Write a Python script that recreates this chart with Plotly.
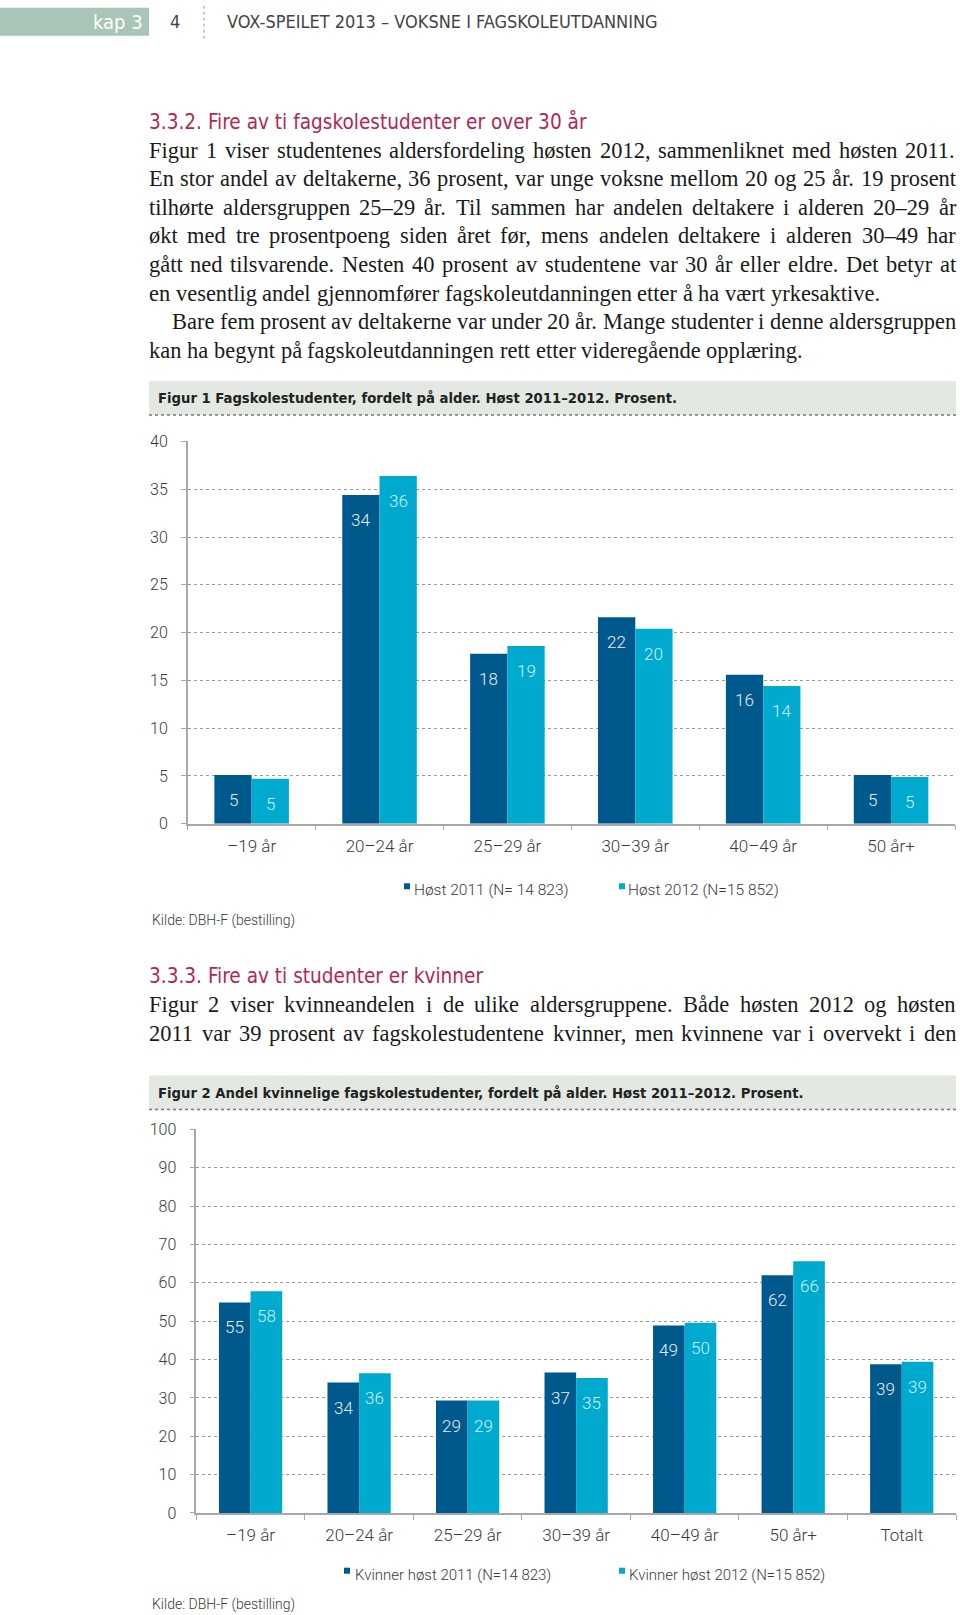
import plotly.graph_objects as go

W, H = 960, 1615

# ---------------- text content ----------------
header_chapter = "kap 3"
header_page = "4"
header_title = "VOX-SPEILET 2013 – VOKSNE I FAGSKOLEUTDANNING"

heading_1 = "3.3.2. Fire av ti fagskolestudenter er over 30 år"
paragraph_1a = [
    "Figur 1 viser studentenes aldersfordeling høsten 2012, sammenliknet med høsten 2011.",
    "En stor andel av deltakerne, 36 prosent, var unge voksne mellom 20 og 25 år. 19 prosent",
    "tilhørte aldersgruppen 25–29 år. Til sammen har andelen deltakere i alderen 20–29 år",
    "økt med tre prosentpoeng siden året før, mens andelen deltakere i alderen 30–49 har",
    "gått ned tilsvarende. Nesten 40 prosent av studentene var 30 år eller eldre. Det betyr at",
    "en vesentlig andel gjennomfører fagskoleutdanningen etter å ha vært yrkesaktive.",
]
paragraph_1b = [
    "Bare fem prosent av deltakerne var under 20 år. Mange studenter i denne aldersgruppen",
    "kan ha begynt på fagskoleutdanningen rett etter videregående opplæring.",
]
heading_2 = "3.3.3. Fire av ti studenter er kvinner"
paragraph_2 = [
    "Figur 2 viser kvinneandelen i de ulike aldersgruppene. Både høsten 2012 og høsten",
    "2011 var 39 prosent av fagskolestudentene kvinner, men kvinnene var i overvekt i den",
]

# ---------------- figure 1 data ----------------
fig1_caption = "Figur 1 Fagskolestudenter, fordelt på alder. Høst 2011–2012. Prosent."
fig1_categories = ["–19 år", "20–24 år", "25–29 år", "30–39 år", "40–49 år", "50 år+"]
fig1_host_2011 = [5.1, 34.4, 17.8, 21.6, 15.6, 5.1]
fig1_host_2012 = [4.7, 36.4, 18.6, 20.4, 14.4, 4.9]
fig1_series = ["Høst 2011 (N= 14 823)", "Høst 2012 (N=15 852)"]
fig1_yticks = [0, 5, 10, 15, 20, 25, 30, 35, 40]

# ---------------- figure 2 data ----------------
fig2_caption = "Figur 2 Andel kvinnelige fagskolestudenter, fordelt på alder. Høst 2011–2012. Prosent."
fig2_categories = ["–19 år", "20–24 år", "25–29 år", "30–39 år", "40–49 år", "50 år+", "Totalt"]
fig2_kvinner_2011 = [54.9, 34.0, 29.3, 36.6, 48.9, 62.0, 38.8]
fig2_kvinner_2012 = [57.8, 36.4, 29.3, 35.2, 49.6, 65.6, 39.4]
fig2_series = ["Kvinner høst 2011 (N=14 823)", "Kvinner høst 2012 (N=15 852)"]
fig2_yticks = [0, 10, 20, 30, 40, 50, 60, 70, 80, 90, 100]

source_text = "Kilde: DBH-F (bestilling)"

# ---------------- styles ----------------
DARK = "#00598c"
LIGHT = "#00aacf"
LBL_DARK = "#e4edf3"
LBL_LIGHT = "#cdeef7"
GRID = "#9a9a9a"
AXIS = "#a8a8a8"
TXT = "#3a3a3a"
CRIMSON = "#b3284f"
BAND = "#e3e8e3"
SANS = "Roboto, Open Sans, sans-serif"
COND = "Liberation Sans Narrow, DejaVu Sans Condensed, Roboto, sans-serif"
SERIF = "Liberation Serif, Times New Roman, serif"
LIGHTW = 300
BARGAP = 0.417

# vertical calibration of page coordinates (target pixel rows -> figure rows)
Y_SCALE = 0.9876
Y_OFF = 9.3


def px(x):
    return x / W


def py(y):
    return 1 - ((y - Y_OFF) / Y_SCALE) / H


annotations = []
shapes = []


def add_text(x, y, s, size, color, family, xanchor="left", weight="normal"):
    annotations.append(dict(
        x=px(x), y=py(y), xref="paper", yref="paper", text=s, showarrow=False,
        xanchor=xanchor, yanchor="middle", borderpad=0, borderwidth=0,
        font=dict(size=size, color=color, family=family, weight=weight)))


def add_rect(x0, y0, x1, y1, fill):
    shapes.append(dict(type="rect", xref="paper", yref="paper",
                       x0=px(x0), x1=px(x1), y0=py(y0), y1=py(y1),
                       fillcolor=fill, line=dict(width=0), layer="below"))


def add_line(x0, y0, x1, y1, color, width, dash):
    shapes.append(dict(type="line", xref="paper", yref="paper",
                       x0=px(x0), x1=px(x1), y0=py(y0), y1=py(y1),
                       line=dict(color=color, width=width, dash=dash)))


# ---------------- header ----------------
add_rect(0, 8, 149, 36, "#a9c5b7")
add_text(143, 22, header_chapter, 20, "white", COND, xanchor="right")
add_text(175, 22, header_page, 18, "#444444", COND, xanchor="center", weight=LIGHTW)
add_line(204, 6, 204, 40, "#9a9a9a", 1, "dot")
add_text(227, 22, header_title, 18, "#444444", COND, weight=LIGHTW)

# ---------------- justified body text (Times metrics) ----------------
TIMES = {" ": 250, "a": 444, "b": 500, "c": 444, "d": 500, "e": 444, "f": 333, "g": 500,
         "h": 500, "i": 278, "j": 278, "k": 500, "l": 278, "m": 778, "n": 500, "o": 500,
         "p": 500, "q": 500, "r": 333, "s": 389, "t": 278, "u": 500, "v": 500, "w": 722,
         "x": 500, "y": 500, "z": 444, "å": 444, "ø": 500, "æ": 667,
         "A": 722, "B": 667, "C": 667, "D": 722, "E": 611, "F": 556, "G": 722, "H": 722,
         "I": 333, "J": 389, "K": 722, "L": 611, "M": 889, "N": 722, "O": 722, "P": 556,
         "R": 667, "S": 556, "T": 611, "U": 722, "V": 722, "W": 944,
         ",": 250, ".": 250, "–": 500, "-": 333}


def tw(s):
    return sum(TIMES.get(c, 500) for c in s) / 1000.0


X0, X1 = 149.0, 956.0
INDENT = 23.0
all_lines = paragraph_1a + paragraph_1b + paragraph_2
BODY = min(23.0, 0.985 * (X1 - X0) / max(tw(l) for l in all_lines))


def body_lines(lines, y_first, dy, indent_first=False, last_ragged=True):
    for i, line in enumerate(lines):
        y = y_first + i * dy
        x = X0 + (INDENT if (indent_first and i == 0) else 0.0)
        words = line.split(" ")
        ragged = last_ragged and i == len(lines) - 1
        wsum = sum(tw(w) for w in words) * BODY
        if ragged or len(words) < 2:
            gap = tw(" ") * BODY
        else:
            gap = (X1 - x - wsum) / (len(words) - 1)
        for w in words:
            add_text(x, y, w, BODY, "#1a1a1a", SERIF)
            x += tw(w) * BODY + gap


add_text(149, 121.5, heading_1, 20.6, CRIMSON, COND, weight=LIGHTW)
body_lines(paragraph_1a, 150.4, 28.55)
body_lines(paragraph_1b, 150.4 + 6 * 28.55, 28.55, indent_first=True)

add_text(149, 975.4, heading_2, 20.6, CRIMSON, COND, weight=LIGHTW)
body_lines(paragraph_2, 1004.3, 28.8, last_ragged=False)

# ---------------- captions ----------------
add_rect(149, 381, 956, 415, BAND)
add_line(149, 415, 956, 415, "#777777", 1.5, "dot")
add_text(158, 398, "<b>" + fig1_caption + "</b>", 14.7, "#222222", COND)

add_rect(149, 1075, 956, 1109, BAND)
add_line(149, 1109, 956, 1109, "#777777", 1.5, "dot")
add_text(158, 1092, "<b>" + fig2_caption + "</b>", 14.7, "#222222", COND)

# ---------------- chart geometry ----------------
C1_X = (187.7, 955.0)
C1_Y = (823.5, 441.5)
C2_X = (196.3, 956.0)
C2_Y = (1512.3, 1129.0)

fig = go.Figure()
fig.add_trace(go.Bar(x=fig1_categories, y=fig1_host_2011, name=fig1_series[0],
                     marker=dict(color=DARK, line=dict(width=0)), xaxis="x", yaxis="y",
                     showlegend=False, hoverinfo="skip"))
fig.add_trace(go.Bar(x=fig1_categories, y=fig1_host_2012, name=fig1_series[1],
                     marker=dict(color=LIGHT, line=dict(width=0)), xaxis="x", yaxis="y",
                     showlegend=False, hoverinfo="skip"))
fig.add_trace(go.Bar(x=fig2_categories, y=fig2_kvinner_2011, name=fig2_series[0],
                     marker=dict(color=DARK, line=dict(width=0)), xaxis="x2", yaxis="y2",
                     showlegend=False, hoverinfo="skip"))
fig.add_trace(go.Bar(x=fig2_categories, y=fig2_kvinner_2012, name=fig2_series[1],
                     marker=dict(color=LIGHT, line=dict(width=0)), xaxis="x2", yaxis="y2",
                     showlegend=False, hoverinfo="skip"))


def value_labels(cats, v_dark, v_light, xref, yref, xr):
    cat_w = (xr[1] - xr[0]) / len(cats)
    off = cat_w * (1 - BARGAP) / 4
    for c, a, b in zip(cats, v_dark, v_light):
        for v, sh, col in ((a, -off, LBL_DARK), (b, off, LBL_LIGHT)):
            annotations.append(dict(x=c, y=v, xref=xref, yref=yref, text=f"{v:.0f}",
                                    showarrow=False, xshift=sh, yshift=-25,
                                    xanchor="center", yanchor="middle",
                                    font=dict(size=17, color=col, family=SANS,
                                              weight=LIGHTW)))


value_labels(fig1_categories, fig1_host_2011, fig1_host_2012, "x", "y", C1_X)
value_labels(fig2_categories, fig2_kvinner_2011, fig2_kvinner_2012, "x2", "y2", C2_X)


def legend(names, xs_sq, xs_txt, y_sq, y_txt, size):
    for name, xs, xt, col in zip(names, xs_sq, xs_txt, (DARK, LIGHT)):
        add_rect(xs, y_sq, xs + 6, y_sq + 6, col)
        add_text(xt, y_txt, name, size, TXT, SANS, weight=LIGHTW)


legend(fig1_series, (404, 619), (414, 628), 883, 890, 15.5)
add_text(152, 920, source_text, 14, TXT, SANS, weight=LIGHTW)
legend(fig2_series, (344, 619), (355, 629), 1567, 1574, 15)
add_text(152, 1604, source_text, 14, TXT, SANS, weight=LIGHTW)

xaxis_common = dict(type="category", showline=True, linecolor=AXIS, linewidth=1.5,
                    ticks="outside", tickson="boundaries", ticklen=5, tickcolor=AXIS,
                    tickwidth=1, showgrid=False, zeroline=False, fixedrange=True,
                    tickfont=dict(size=17, color=TXT, family=SANS, weight=LIGHTW),
                    ticklabelstandoff=6)
yaxis_common = dict(showline=True, linecolor=AXIS, linewidth=1.5, ticks="outside",
                    ticklen=5, tickcolor=AXIS, tickwidth=1, showgrid=True, gridcolor=GRID,
                    griddash="dot", gridwidth=1, zeroline=False, fixedrange=True,
                    tickfont=dict(size=16, color=TXT, family=SANS, weight=LIGHTW),
                    ticklabelstandoff=10)

fig.update_layout(
    autosize=True, margin=dict(l=0, r=0, t=0, b=0),
    paper_bgcolor="white", plot_bgcolor="white",
    barmode="group", bargap=BARGAP, bargroupgap=0, showlegend=False,
    xaxis=dict(domain=[px(C1_X[0]), px(C1_X[1])], anchor="y", **xaxis_common),
    yaxis=dict(domain=[py(C1_Y[0]), py(C1_Y[1])], anchor="x", range=[0, 40],
               tickvals=fig1_yticks, **yaxis_common),
    xaxis2=dict(domain=[px(C2_X[0]), px(C2_X[1])], anchor="y2", **xaxis_common),
    yaxis2=dict(domain=[py(C2_Y[0]), py(C2_Y[1])], anchor="x2", range=[0, 100],
                tickvals=fig2_yticks, **yaxis_common),
    annotations=annotations, shapes=shapes,
)

# The plot div is pinned to the page's top-left corner at exactly 960x1615 px.
fig.write_html("out.html", config={"displayModeBar": False, "responsive": False},
               default_width="%dpx; position:absolute; left:0px; top:0px" % W,
               default_height="%dpx" % H,
               post_script="document.body.style.margin='0';")
